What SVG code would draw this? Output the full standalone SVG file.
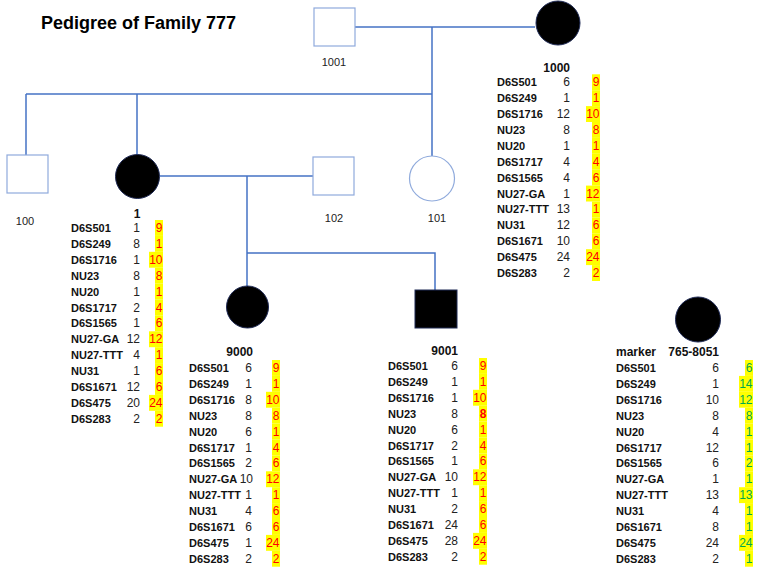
<svg xmlns="http://www.w3.org/2000/svg" width="759" height="574" viewBox="0 0 759 574">
<style>
text{font-family:"Liberation Sans",Arial,sans-serif}
.title{font-size:18px;font-weight:bold;fill:#000}
.id{font-size:11px;fill:#222}
.hd{font-size:12px;font-weight:bold;fill:#111}
.lab{font-size:11px;font-weight:bold;fill:#111}
.num{font-size:12px;fill:#222;text-anchor:end}
.r{font-size:12px;fill:#FF0000;text-anchor:end}
.g{font-size:12px;fill:#00A84F;text-anchor:end}
.y{fill:#FFFF00}
.ln{stroke:#4472C4;stroke-width:1.5;fill:none}
.sq{fill:#fff;stroke:#8FAADC;stroke-width:1.2}
.aff{fill:#000;stroke:#1F2A55;stroke-width:1}
</style>
<rect width="759" height="574" fill="#fff"/>
<text class="title" x="41" y="29">Pedigree of Family 777</text>
<g id="connectors">
<path class="ln" d="M355 27H535"/>
<path class="ln" d="M432 27V156"/>
<path class="ln" d="M26 94H432"/>
<path class="ln" d="M26 94V155"/>
<path class="ln" d="M137 94V155"/>
<path class="ln" d="M160 176H313"/>
<path class="ln" d="M247 176V286"/>
<path class="ln" d="M247 253H435V290"/>
</g>
<g id="n1001"><rect class="sq" x="314" y="8" width="41" height="38"/><text class="id" x="334" y="66" text-anchor="middle">1001</text></g>
<g id="n1000"><circle class="aff" cx="558" cy="23" r="22"/></g>
<g id="n100"><rect class="sq" x="7" y="155" width="41" height="38"/><text class="id" x="25" y="225" text-anchor="middle">100</text></g>
<g id="n1"><circle class="aff" cx="137.5" cy="176.5" r="22"/></g>
<g id="n102"><rect class="sq" x="313" y="157" width="41" height="38"/><text class="id" x="334" y="222" text-anchor="middle">102</text></g>
<g id="n101"><circle class="sq" cx="432" cy="178.5" r="22.5"/><text class="id" x="437" y="222" text-anchor="middle">101</text></g>
<g id="n9000"><circle class="aff" cx="247.5" cy="307" r="21"/></g>
<g id="n9001"><rect class="aff" x="415" y="290" width="42" height="38"/></g>
<g id="n8051"><circle class="aff" cx="698" cy="319.5" r="22.5"/></g>

<g id="t1000" transform="translate(497,82.3)">
<text class="hd" x="73" y="-10" text-anchor="end">1000</text>
<g class="y">
<rect x="95" y="-8" width="8" height="15.9"/><rect x="95" y="7.9" width="8" height="15.9"/><rect x="89" y="23.8" width="14" height="15.9"/><rect x="95" y="39.7" width="8" height="15.9"/><rect x="95" y="55.6" width="8" height="15.9"/><rect x="95" y="71.5" width="8" height="15.9"/><rect x="95" y="87.4" width="8" height="15.9"/><rect x="89" y="103.3" width="14" height="15.9"/><rect x="95" y="119.2" width="8" height="15.9"/><rect x="95" y="135.1" width="8" height="15.9"/><rect x="95" y="151" width="8" height="15.9"/><rect x="89" y="166.9" width="14" height="15.9"/><rect x="95" y="182.8" width="8" height="15.9"/>
</g>
<text class="lab" x="0" y="4">D6S501</text><text class="lab" x="0" y="19.9">D6S249</text><text class="lab" x="0" y="35.8">D6S1716</text><text class="lab" x="0" y="51.7">NU23</text><text class="lab" x="0" y="67.6">NU20</text><text class="lab" x="0" y="83.5">D6S1717</text><text class="lab" x="0" y="99.4">D6S1565</text><text class="lab" x="0" y="115.3">NU27-GA</text><text class="lab" x="0" y="131.2">NU27-TTT</text><text class="lab" x="0" y="147.1">NU31</text><text class="lab" x="0" y="163">D6S1671</text><text class="lab" x="0" y="178.9">D6S475</text><text class="lab" x="0" y="194.8">D6S283</text>
<text class="num" x="73" y="4">6</text><text class="num" x="73" y="19.9">1</text><text class="num" x="73" y="35.8">12</text><text class="num" x="73" y="51.7">8</text><text class="num" x="73" y="67.6">1</text><text class="num" x="73" y="83.5">4</text><text class="num" x="73" y="99.4">4</text><text class="num" x="73" y="115.3">1</text><text class="num" x="73" y="131.2">13</text><text class="num" x="73" y="147.1">12</text><text class="num" x="73" y="163">10</text><text class="num" x="73" y="178.9">24</text><text class="num" x="73" y="194.8">2</text>
<text class="r" x="102.5" y="4">9</text><text class="r" x="102.5" y="19.9">1</text><text class="r" x="102.5" y="35.8">10</text><text class="r" x="102.5" y="51.7">8</text><text class="r" x="102.5" y="67.6">1</text><text class="r" x="102.5" y="83.5">4</text><text class="r" x="102.5" y="99.4">6</text><text class="r" x="102.5" y="115.3">12</text><text class="r" x="102.5" y="131.2">1</text><text class="r" x="102.5" y="147.1">6</text><text class="r" x="102.5" y="163">6</text><text class="r" x="102.5" y="178.9">24</text><text class="r" x="102.5" y="194.8">2</text>
</g>

<g id="t1" transform="translate(71,228)">
<text class="hd" x="66" y="-10.5" text-anchor="middle">1</text>
<g class="y">
<rect x="84" y="-8" width="8" height="15.9"/><rect x="84" y="7.9" width="8" height="15.9"/><rect x="78" y="23.8" width="14" height="15.9"/><rect x="84" y="39.7" width="8" height="15.9"/><rect x="84" y="55.6" width="8" height="15.9"/><rect x="84" y="71.5" width="8" height="15.9"/><rect x="84" y="87.4" width="8" height="15.9"/><rect x="78" y="103.3" width="14" height="15.9"/><rect x="84" y="119.2" width="8" height="15.9"/><rect x="84" y="135.1" width="8" height="15.9"/><rect x="84" y="151" width="8" height="15.9"/><rect x="78" y="166.9" width="14" height="15.9"/><rect x="84" y="182.8" width="8" height="15.9"/>
</g>
<text class="lab" x="0" y="4">D6S501</text><text class="lab" x="0" y="19.9">D6S249</text><text class="lab" x="0" y="35.8">D6S1716</text><text class="lab" x="0" y="51.7">NU23</text><text class="lab" x="0" y="67.6">NU20</text><text class="lab" x="0" y="83.5">D6S1717</text><text class="lab" x="0" y="99.4">D6S1565</text><text class="lab" x="0" y="115.3">NU27-GA</text><text class="lab" x="0" y="131.2">NU27-TTT</text><text class="lab" x="0" y="147.1">NU31</text><text class="lab" x="0" y="163">D6S1671</text><text class="lab" x="0" y="178.9">D6S475</text><text class="lab" x="0" y="194.8">D6S283</text>
<text class="num" x="69" y="4">1</text><text class="num" x="69" y="19.9">8</text><text class="num" x="69" y="35.8">1</text><text class="num" x="69" y="51.7">8</text><text class="num" x="69" y="67.6">1</text><text class="num" x="69" y="83.5">2</text><text class="num" x="69" y="99.4">1</text><text class="num" x="69" y="115.3">12</text><text class="num" x="69" y="131.2">4</text><text class="num" x="69" y="147.1">1</text><text class="num" x="69" y="163">12</text><text class="num" x="69" y="178.9">20</text><text class="num" x="69" y="194.8">2</text>
<text class="r" x="91.5" y="4">9</text><text class="r" x="91.5" y="19.9">1</text><text class="r" x="91.5" y="35.8">10</text><text class="r" x="91.5" y="51.7">8</text><text class="r" x="91.5" y="67.6">1</text><text class="r" x="91.5" y="83.5">4</text><text class="r" x="91.5" y="99.4">6</text><text class="r" x="91.5" y="115.3">12</text><text class="r" x="91.5" y="131.2">1</text><text class="r" x="91.5" y="147.1">6</text><text class="r" x="91.5" y="163">6</text><text class="r" x="91.5" y="178.9">24</text><text class="r" x="91.5" y="194.8">2</text>
</g>

<g id="t9000" transform="translate(189,368)">
<text class="hd" x="64" y="-12.5" text-anchor="end">9000</text>
<g class="y">
<rect x="83" y="-8" width="8" height="15.9"/><rect x="83" y="7.9" width="8" height="15.9"/><rect x="77" y="23.8" width="14" height="15.9"/><rect x="83" y="39.7" width="8" height="15.9"/><rect x="83" y="55.6" width="8" height="15.9"/><rect x="83" y="71.5" width="8" height="15.9"/><rect x="83" y="87.4" width="8" height="15.9"/><rect x="77" y="103.3" width="14" height="15.9"/><rect x="83" y="119.2" width="8" height="15.9"/><rect x="83" y="135.1" width="8" height="15.9"/><rect x="83" y="151" width="8" height="15.9"/><rect x="77" y="166.9" width="14" height="15.9"/><rect x="83" y="182.8" width="8" height="15.9"/>
</g>
<text class="lab" x="0" y="4">D6S501</text><text class="lab" x="0" y="19.9">D6S249</text><text class="lab" x="0" y="35.8">D6S1716</text><text class="lab" x="0" y="51.7">NU23</text><text class="lab" x="0" y="67.6">NU20</text><text class="lab" x="0" y="83.5">D6S1717</text><text class="lab" x="0" y="99.4">D6S1565</text><text class="lab" x="0" y="115.3">NU27-GA</text><text class="lab" x="0" y="131.2">NU27-TTT</text><text class="lab" x="0" y="147.1">NU31</text><text class="lab" x="0" y="163">D6S1671</text><text class="lab" x="0" y="178.9">D6S475</text><text class="lab" x="0" y="194.8">D6S283</text>
<text class="num" x="63" y="4">6</text><text class="num" x="63" y="19.9">1</text><text class="num" x="63" y="35.8">8</text><text class="num" x="63" y="51.7">8</text><text class="num" x="63" y="67.6">6</text><text class="num" x="63" y="83.5">1</text><text class="num" x="63" y="99.4">2</text><text class="num" x="64" y="115.3">10</text><text class="num" x="63" y="131.2">1</text><text class="num" x="63" y="147.1">4</text><text class="num" x="63" y="163">6</text><text class="num" x="63" y="178.9">1</text><text class="num" x="63" y="194.8">2</text>
<text class="r" x="90.5" y="4">9</text><text class="r" x="90.5" y="19.9">1</text><text class="r" x="90.5" y="35.8">10</text><text class="r" x="90.5" y="51.7">8</text><text class="r" x="90.5" y="67.6">1</text><text class="r" x="90.5" y="83.5">4</text><text class="r" x="90.5" y="99.4">6</text><text class="r" x="90.5" y="115.3">12</text><text class="r" x="90.5" y="131.2">1</text><text class="r" x="90.5" y="147.1">6</text><text class="r" x="90.5" y="163">6</text><text class="r" x="90.5" y="178.9">24</text><text class="r" x="90.5" y="194.8">2</text>
</g>

<g id="t9001" transform="translate(388,366)">
<text class="hd" x="70" y="-11.5" text-anchor="end">9001</text>
<g class="y">
<rect x="91" y="-8" width="8" height="15.9"/><rect x="91" y="7.9" width="8" height="15.9"/><rect x="85" y="23.8" width="14" height="15.9"/><rect x="91" y="39.7" width="8" height="15.9"/><rect x="91" y="55.6" width="8" height="15.9"/><rect x="91" y="71.5" width="8" height="15.9"/><rect x="91" y="87.4" width="8" height="15.9"/><rect x="85" y="103.3" width="14" height="15.9"/><rect x="91" y="119.2" width="8" height="15.9"/><rect x="91" y="135.1" width="8" height="15.9"/><rect x="91" y="151" width="8" height="15.9"/><rect x="85" y="166.9" width="14" height="15.9"/><rect x="91" y="182.8" width="8" height="15.9"/>
</g>
<text class="lab" x="0" y="4">D6S501</text><text class="lab" x="0" y="19.9">D6S249</text><text class="lab" x="0" y="35.8">D6S1716</text><text class="lab" x="0" y="51.7">NU23</text><text class="lab" x="0" y="67.6">NU20</text><text class="lab" x="0" y="83.5">D6S1717</text><text class="lab" x="0" y="99.4">D6S1565</text><text class="lab" x="0" y="115.3">NU27-GA</text><text class="lab" x="0" y="131.2">NU27-TTT</text><text class="lab" x="0" y="147.1">NU31</text><text class="lab" x="0" y="163">D6S1671</text><text class="lab" x="0" y="178.9">D6S475</text><text class="lab" x="0" y="194.8">D6S283</text>
<text class="num" x="70" y="4">6</text><text class="num" x="70" y="19.9">1</text><text class="num" x="70" y="35.8">1</text><text class="num" x="70" y="51.7">8</text><text class="num" x="70" y="67.6">6</text><text class="num" x="70" y="83.5">2</text><text class="num" x="70" y="99.4">1</text><text class="num" x="70" y="115.3">10</text><text class="num" x="70" y="131.2">1</text><text class="num" x="70" y="147.1">2</text><text class="num" x="70" y="163">24</text><text class="num" x="70" y="178.9">28</text><text class="num" x="70" y="194.8">2</text>
<text class="r" x="98.5" y="4">9</text><text class="r" x="98.5" y="19.9">1</text><text class="r" x="98.5" y="35.8">10</text><text class="r" x="98.5" y="51.7" font-weight="bold">8</text><text class="r" x="98.5" y="67.6">1</text><text class="r" x="98.5" y="83.5">4</text><text class="r" x="98.5" y="99.4">6</text><text class="r" x="98.5" y="115.3">12</text><text class="r" x="98.5" y="131.2">1</text><text class="r" x="98.5" y="147.1">6</text><text class="r" x="98.5" y="163">6</text><text class="r" x="98.5" y="178.9">24</text><text class="r" x="98.5" y="194.8">2</text>
</g>

<g id="t8051" transform="translate(616,368)">
<text class="hd" x="0" y="-12">marker</text>
<text class="hd" x="103" y="-12" text-anchor="end">765-8051</text>
<g class="y">
<rect x="129" y="-8" width="8" height="15.9"/><rect x="123" y="7.9" width="14" height="15.9"/><rect x="123" y="23.8" width="14" height="15.9"/><rect x="129" y="39.7" width="8" height="15.9"/><rect x="129" y="55.6" width="8" height="15.9"/><rect x="129" y="71.5" width="8" height="15.9"/><rect x="129" y="87.4" width="8" height="15.9"/><rect x="129" y="103.3" width="8" height="15.9"/><rect x="123" y="119.2" width="14" height="15.9"/><rect x="129" y="135.1" width="8" height="15.9"/><rect x="129" y="151" width="8" height="15.9"/><rect x="123" y="166.9" width="14" height="15.9"/><rect x="129" y="182.8" width="8" height="15.9"/>
</g>
<text class="lab" x="0" y="4">D6S501</text><text class="lab" x="0" y="19.9">D6S249</text><text class="lab" x="0" y="35.8">D6S1716</text><text class="lab" x="0" y="51.7">NU23</text><text class="lab" x="0" y="67.6">NU20</text><text class="lab" x="0" y="83.5">D6S1717</text><text class="lab" x="0" y="99.4">D6S1565</text><text class="lab" x="0" y="115.3">NU27-GA</text><text class="lab" x="0" y="131.2">NU27-TTT</text><text class="lab" x="0" y="147.1">NU31</text><text class="lab" x="0" y="163">D6S1671</text><text class="lab" x="0" y="178.9">D6S475</text><text class="lab" x="0" y="194.8">D6S283</text>
<text class="num" x="103" y="4">6</text><text class="num" x="103" y="19.9">1</text><text class="num" x="103" y="35.8">10</text><text class="num" x="103" y="51.7">8</text><text class="num" x="103" y="67.6">4</text><text class="num" x="103" y="83.5">12</text><text class="num" x="103" y="99.4">6</text><text class="num" x="103" y="115.3">1</text><text class="num" x="103" y="131.2">13</text><text class="num" x="103" y="147.1">4</text><text class="num" x="103" y="163">8</text><text class="num" x="103" y="178.9">24</text><text class="num" x="103" y="194.8">2</text>
<text class="g" x="136.5" y="4">6</text><text class="g" x="136.5" y="19.9">14</text><text class="g" x="136.5" y="35.8">12</text><text class="g" x="136.5" y="51.7">8</text><text class="g" x="136.5" y="67.6">1</text><text class="g" x="136.5" y="83.5">1</text><text class="g" x="136.5" y="99.4">2</text><text class="g" x="136.5" y="115.3">1</text><text class="g" x="136.5" y="131.2">13</text><text class="g" x="136.5" y="147.1">1</text><text class="g" x="136.5" y="163">1</text><text class="g" x="136.5" y="178.9">24</text><text class="g" x="136.5" y="194.8">1</text>
</g>
</svg>
